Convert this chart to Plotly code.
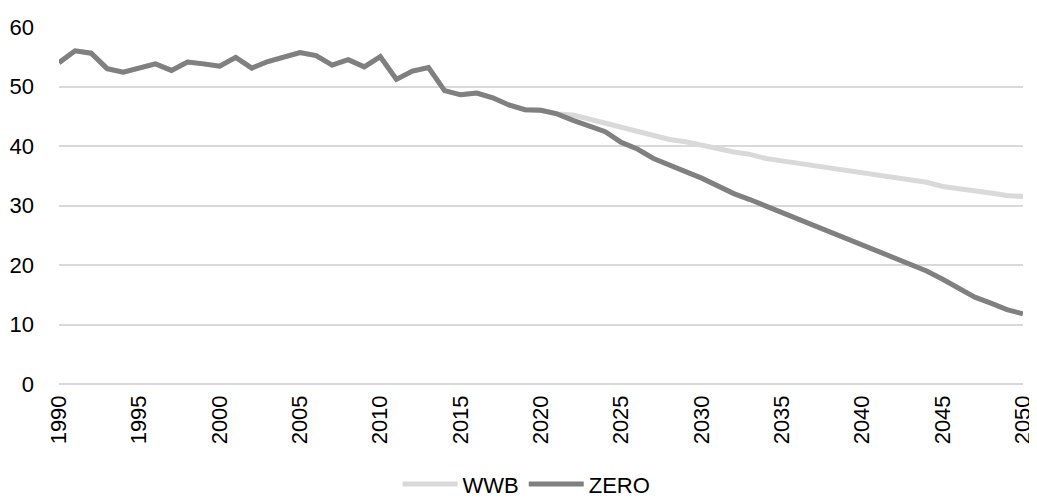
import plotly.graph_objects as go

years = list(range(1990, 2051))

zero = [54.0, 56.0, 55.6, 53.0, 52.4, 53.0, 53.8, 52.7, 54.1, 53.8,
        53.4, 54.9, 53.1, 54.2, 54.9, 55.7, 55.2, 53.6, 54.5, 53.3,
        55.0, 51.2, 52.6, 53.2, 49.3, 48.6, 48.9, 48.1, 46.9, 46.1,
        46.0, 45.4, 44.3, 43.4, 42.4, 40.6, 39.5, 37.9, 36.9, 35.7,
        34.6, 33.2, 32.0, 31.0, 29.9, 28.9, 27.7, 26.7, 25.5, 24.4,
        23.3, 22.3, 21.2, 20.1, 19.0, 17.6, 16.1, 14.6, 13.6, 12.5,
        11.8]

wwb = [54.0, 56.0, 55.6, 53.0, 52.4, 53.0, 53.8, 52.7, 54.1, 53.8,
       53.4, 54.9, 53.1, 54.2, 54.9, 55.7, 55.2, 53.6, 54.5, 53.3,
       55.0, 51.2, 52.6, 53.2, 49.3, 48.6, 48.9, 48.1, 46.9, 46.1,
       46.0, 45.4, 45.2, 44.5, 44.0, 43.2, 42.5, 41.8, 41.1, 40.7,
       40.1, 39.6, 39.0, 38.6, 37.9, 37.5, 37.1, 36.7, 36.1, 35.7,
       35.3, 34.9, 34.6, 34.3, 33.9, 33.2, 32.9, 32.5, 32.1, 31.7,
       31.5]

x_ticks = list(range(1990, 2051, 5))
y_ticks = [0, 10, 20, 30, 40, 50, 60]

font_family = "Liberation Sans, Arial, sans-serif"
fs = 22

fig = go.Figure()
fig.add_trace(go.Scatter(x=years, y=wwb, mode="lines", name="WWB",
                         line=dict(color="#d9d9d9", width=5)))
fig.add_trace(go.Scatter(x=years, y=zero, mode="lines", name="ZERO",
                         line=dict(color="#808080", width=5)))

# page body has an 8px margin, so the figure is sized to fit inside it
fig.update_layout(
    width=1029, height=491,
    margin=dict(l=51, r=14, t=19, b=115, autoexpand=False),
    paper_bgcolor="white", plot_bgcolor="white",
    font=dict(family=font_family, size=fs, color="#000000"),
    showlegend=True,
    legend=dict(orientation="h", x=0.485, xanchor="center",
                yref="container", y=0.03, yanchor="middle",
                font=dict(size=fs), itemwidth=55,
                traceorder="normal"),
    xaxis=dict(range=[1990, 2050], tickmode="array", tickvals=x_ticks,
               ticktext=[str(t) for t in x_ticks], tickangle=-90,
               showgrid=False, zeroline=False, showline=False,
               ticks="", tickfont=dict(size=fs), automargin=False,
               ticklabelstandoff=6),
    yaxis=dict(range=[0, 60], tickmode="array", tickvals=y_ticks,
               showgrid=True, gridcolor="#d9d9d9", gridwidth=2,
               zeroline=True, zerolinecolor="#d9d9d9", zerolinewidth=2,
               showline=False, ticks="",
               tickfont=dict(size=fs), automargin=False,
               ticklabelstandoff=24),
)

fig.write_html("out.html")
